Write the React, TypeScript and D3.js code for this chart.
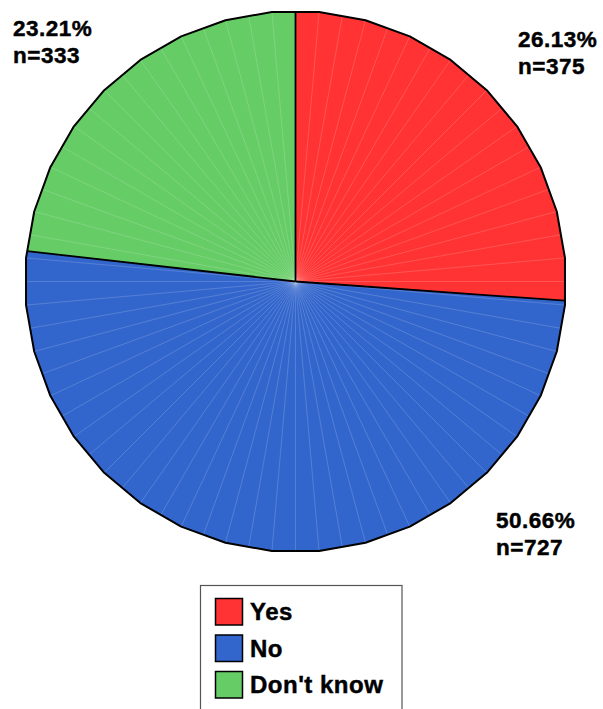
import React from "react";
import * as d3 from "d3";

const categories = ["Yes", "No", "Don't know"];
const counts = [375, 727, 333];
const percentLabels = ["26.13%", "50.66%", "23.21%"];
const colors = ["#ff3333", "#3366cc", "#66cc66"];

const W = 603;
const H = 709;
const cx = 295.5;
const cy = 281.5;
const R = 270.5;
// label anchor positions (top-left of text block) for each category
const labelPos: [number, number][] = [
  [518, 47],
  [496, 528],
  [13, 36],
];

const toRad = (deg: number) => (deg * Math.PI) / 180;
const toDeg = (rad: number) => (rad * 180) / Math.PI;

// polygonal pie (36-gon, vertices at 5° + 10°k)
function boundary(deg: number): [number, number] {
  const m = Math.round(deg / 10) * 10;
  const d = (R * Math.cos(toRad(5))) / Math.cos(toRad(deg - m));
  const a = toRad(deg);
  return [cx + d * Math.sin(a), cy - d * Math.cos(a)];
}

export default function App() {
  const pie = d3.pie<number>().sort(null).value((d) => d)(counts);

  const slices = pie.map((p, i) => {
    const s = toDeg(p.startAngle);
    const e = toDeg(p.endAngle);
    const pts: [number, number][] = [[cx, cy], boundary(s)];
    for (let v = 5; v < 360; v += 10) {
      if (v > s && v < e) pts.push(boundary(v));
    }
    pts.push(boundary(e));
    const path = d3.line()(pts) + "Z";
    const seams: [number, number][] = [];
    for (let a = 0; a < 360; a += 5) {
      if (a > s + 0.5 && a < e - 0.5) seams.push(boundary(a));
    }
    return { path, seams, color: colors[i], s, e };
  });

  const outer: [number, number][] = [];
  for (let v = 5; v < 360; v += 10) outer.push(boundary(v));

  const legendY0 = 598;
  const legendStep = 36.5;

  return (
    <svg
      width={W}
      height={H}
      style={{ position: "absolute", left: 0, top: 0, display: "block" }}
      fontFamily="'Liberation Sans', Arial, sans-serif"
    >
      <rect x={0} y={0} width={W} height={H} fill="#ffffff" />
      {slices.map((sl, i) => (
        <g key={i}>
          <path d={sl.path} fill={sl.color} />
          {sl.seams.map((pt, j) => (
            <line
              key={j}
              x1={cx}
              y1={cy}
              x2={pt[0]}
              y2={pt[1]}
              stroke="#ffffff"
              strokeOpacity={0.28}
              strokeWidth={0.6}
            />
          ))}
        </g>
      ))}
      {slices.map((sl, i) => {
        const b = boundary(sl.s);
        return (
          <line key={"b" + i} x1={cx} y1={cy} x2={b[0]} y2={b[1]} stroke="#000" strokeWidth={1.8} />
        );
      })}
      <path d={d3.line()(outer) + "Z"} fill="none" stroke="#000" strokeWidth={2} strokeLinejoin="round" />

      {categories.map((c, i) => (
        <text
          key={"l" + i}
          x={labelPos[i][0]}
          y={labelPos[i][1]}
          fontSize={22.5}
          fontWeight="bold"
          fill="#000"
          stroke="#000"
          strokeWidth={0.45}
        >
          <tspan x={labelPos[i][0]} letterSpacing={0.5}>{percentLabels[i]}</tspan>
          <tspan x={labelPos[i][0]} dy={27} letterSpacing={0.5}>{"n=" + counts[i]}</tspan>
        </text>
      ))}

      <rect x={200.5} y={585.5} width={201.5} height={140} fill="#fff" stroke="#555" strokeWidth={1.2} />
      {categories.map((c, i) => (
        <g key={"lg" + i}>
          <rect
            x={215.5}
            y={legendY0 + i * legendStep + 0.5}
            width={27}
            height={26.5}
            fill={colors[i]}
            stroke="#000"
            strokeWidth={1.5}
          />
          <text
            x={250}
            y={legendY0 + i * legendStep + 22}
            fontSize={24}
            fontWeight="bold"
            fill="#000"
            stroke="#000"
            strokeWidth={0.45}
            letterSpacing={0.5}
          >
            {c}
          </text>
        </g>
      ))}
    </svg>
  );
}
